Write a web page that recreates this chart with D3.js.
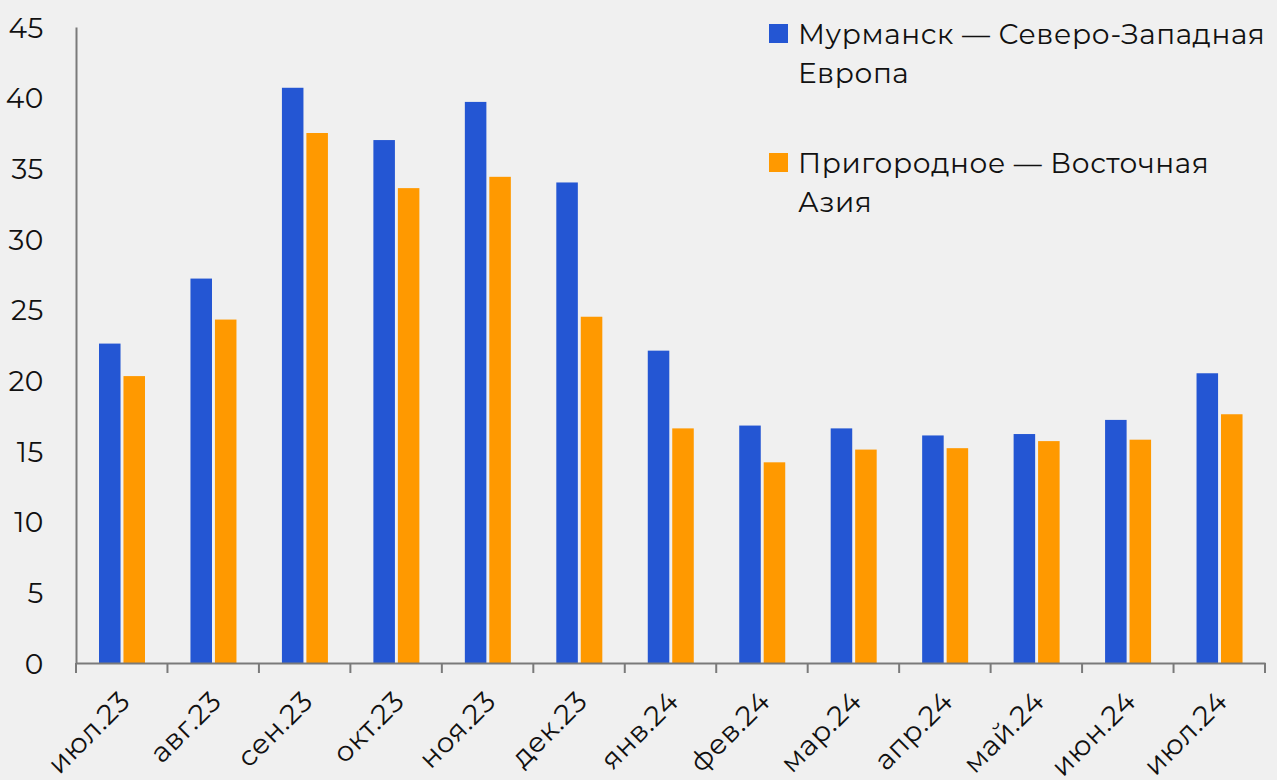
<!DOCTYPE html>
<html>
<head>
<meta charset="utf-8">
<script src="https://cdn.jsdelivr.net/npm/d3@7"></script>
<style>
  html, body { margin: 0; padding: 0; background: #f0f0f0; }
  svg { display: block; }
  svg text { font-family: "Montserrat", "Inter", sans-serif; fill: #111; font-size: 28px; letter-spacing: 0.6px; }
  .axis path, .axis line { stroke: #7a7a7a; stroke-width: 2; }
</style>
</head>
<body>
<svg id="chart" width="1277" height="780"></svg>
<script>
const months = ["июл.23", "авг.23", "сен.23", "окт.23", "ноя.23", "дек.23",
  "янв.24", "фев.24", "мар.24", "апр.24", "май.24", "июн.24", "июл.24"];
const murmansk = [22.6, 27.2, 40.7, 37.0, 39.7, 34.0, 22.1, 16.8, 16.6, 16.1, 16.2, 17.2, 20.5];
const prigorodnoe = [20.3, 24.3, 37.5, 33.6, 34.4, 24.5, 16.6, 14.2, 15.1, 15.2, 15.7, 15.8, 17.6];
const yTicks = [0, 5, 10, 15, 20, 25, 30, 35, 40, 45];
const seriesNames = [
  ["Мурманск — Северо-Западная", "Европа"],
  ["Пригородное — Восточная", "Азия"]
];
const colors = ["#2456d3", "#ff9900"];

const svg = d3.select("#chart");
const plotLeft = 76, plotRight = 1265, plotTop = 27, plotBottom = 663;

const x = d3.scaleBand().domain(months).range([plotLeft, plotRight]);
const inner = d3.scaleBand().domain([0, 1]).range([23, 69]).paddingInner(0.12);
const y = d3.scaleLinear().domain([0, 45]).range([plotBottom, plotTop]);

const rows = months.map((m, i) => ({ month: m, values: [murmansk[i], prigorodnoe[i]] }));

const groups = svg.append("g")
  .selectAll("g.month")
  .data(rows)
  .enter()
  .append("g")
  .attr("class", "month")
  .attr("transform", (d) => `translate(${x(d.month)},0)`);

groups.selectAll("rect")
  .data((d) => d.values)
  .enter()
  .append("rect")
  .attr("x", (d, i) => inner(i))
  .attr("width", inner.bandwidth())
  .attr("y", (d) => y(d))
  .attr("height", (d) => y(0) - y(d))
  .attr("fill", (d, i) => colors[i]);

// y axis
const yAxis = svg.append("g")
  .attr("class", "axis")
  .attr("transform", `translate(${plotLeft},0)`)
  .call(d3.axisLeft(y).tickValues(yTicks).tickSize(0).tickPadding(32));
yAxis.selectAll("text").attr("dy", "0.36em");

// x axis
const xAxis = svg.append("g")
  .attr("class", "axis")
  .attr("transform", `translate(0,${plotBottom})`)
  .call(d3.axisBottom(x).tickSize(0).tickSizeOuter(0));
xAxis.selectAll(".tick line").remove();
xAxis.selectAll("line.sep")
  .data(d3.range(months.length + 1))
  .enter()
  .append("line")
  .attr("class", "sep")
  .attr("x1", (i) => plotLeft + i * x.step())
  .attr("x2", (i) => plotLeft + i * x.step())
  .attr("y1", 0)
  .attr("y2", 10);
xAxis.selectAll(".tick text")
  .attr("text-anchor", "end")
  .attr("dy", 0)
  .attr("y", 0)
  .attr("transform", "translate(10,40) rotate(-45)");

// legend
const legend = svg.append("g").attr("class", "legend");
const legendTops = [24, 153];
seriesNames.forEach((lines, i) => {
  const g = legend.append("g").attr("transform", `translate(769,${legendTops[i]})`);
  g.append("rect").attr("width", 19).attr("height", 19).attr("fill", colors[i]);
  g.selectAll("text")
    .data(lines)
    .enter()
    .append("text")
    .attr("x", 29)
    .attr("y", (d, j) => 20 + j * 39)
    .text((d) => d);
});
</script>
</body>
</html>
